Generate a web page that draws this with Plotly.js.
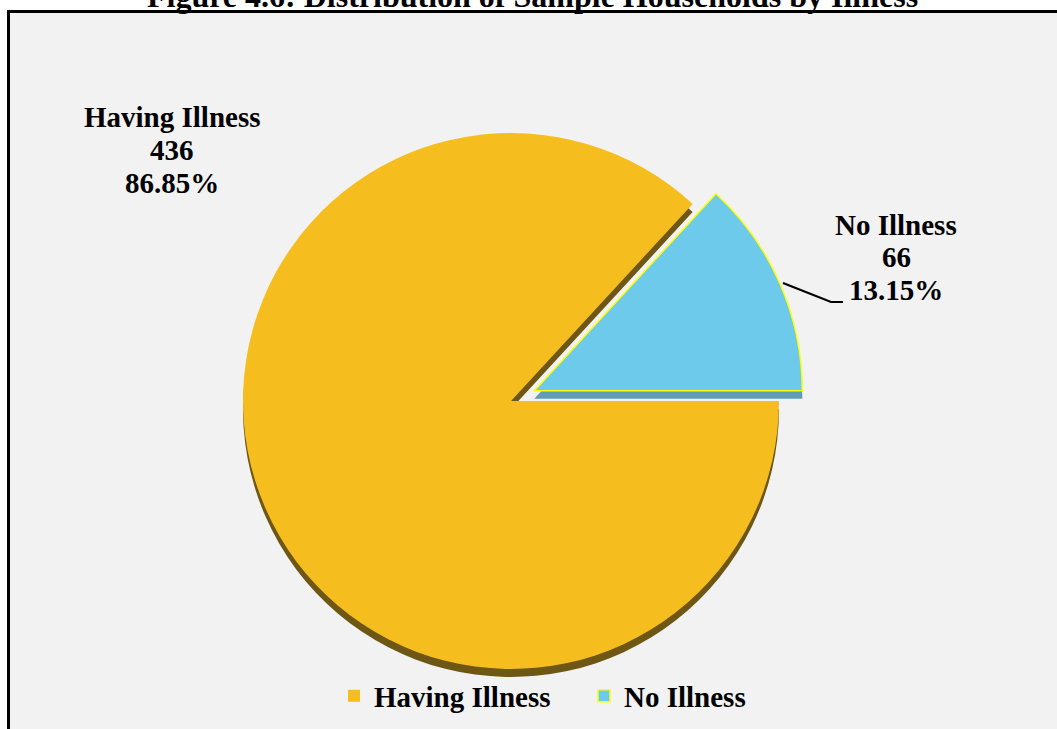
<!DOCTYPE html>
<html>
<head>
<meta charset="utf-8">
<script src="https://cdn.plot.ly/plotly-3.0.1.min.js"></script>
<style>html,body{margin:0;padding:0;background:#fff;}#chart{width:1057px;height:729px;}</style>
</head>
<body>
<div id="chart"></div>
<script>
// ---- data ----
const categories = ['No Illness', 'Having Illness'];
const counts = [66, 436];
const sliceColors = ['#6DCAEA', '#F5BE1E'];
const shadowColors = ['#5E9DB3', '#6E5614'];
const titleText = 'Figure 4.6: Distribution of Sample Households by Illness';

const W = 1057, H = 729;
const px = x => x / W;
const py = y => 1 - y / H;

const total = counts.reduce((a, b) => a + b, 0);
const pct = counts.map(v => (100 * v / total).toFixed(2) + '%');
const startAngle = 90 - 360 * counts[0] / total;

const FONT = 'Liberation Serif, Times New Roman, serif';

const cx = 511, cy = 401, r = 268, pull = 0.095;
const half = r * (1 + pull);
const dom = (dy) => ({
  x: [px(cx - half), px(cx + half)],
  y: [py(cy + dy + half), py(cy + dy - half)]
});

const shadow = {
  type: 'pie', labels: categories, values: counts, sort: false,
  direction: 'clockwise', rotation: startAngle, pull: [pull, 0],
  marker: {colors: shadowColors, line: {width: 0}},
  textinfo: 'none', hoverinfo: 'skip', showlegend: false,
  domain: dom(8)
};
const main = {
  type: 'pie', labels: categories, values: counts, sort: false,
  direction: 'clockwise', rotation: startAngle, pull: [pull, 0],
  marker: {colors: sliceColors, line: {color: ['#FFFF00', '#F5BE1E'], width: [1.5, 0]}},
  textinfo: 'none', showlegend: true,
  domain: dom(0)
};

// label line positions (pixels): x centre, y of each of the three lines
const labelPos = [[896, [225, 257, 290]], [172, [117, 150, 183]]];
const annotations = [];
categories.forEach((c, i) => {
  const lines = [c, String(counts[i]), pct[i]];
  lines.forEach((t, j) => annotations.push({
    text: t, xref: 'paper', yref: 'paper',
    x: px(labelPos[i][0]), y: py(labelPos[i][1][j]),
    xanchor: 'center', yanchor: 'middle', showarrow: false,
    font: {family: FONT, size: 29, color: '#000', weight: 'bold'}
  }));
});
annotations.push({
  text: titleText, xref: 'paper', yref: 'paper', x: px(532), y: py(-4),
  xanchor: 'center', yanchor: 'middle', showarrow: false,
  font: {family: FONT, size: 32, color: '#000', weight: 'bold'}
});

const leader = [[783, 283], [831, 302], [843, 302]];
const shapes = [
  {type: 'rect', xref: 'paper', yref: 'paper', layer: 'below',
   x0: px(8.5), x1: px(1070), y0: py(740), y1: py(11.5),
   fillcolor: '#F2F2F2', line: {color: '#000', width: 3}},
  {type: 'path', xref: 'paper', yref: 'paper', layer: 'above',
   path: 'M' + leader.map(p => px(p[0]) + ',' + py(p[1])).join(' L'),
   line: {color: '#000', width: 2.2}}
];

const layout = {
  width: W, height: H,
  margin: {l: 0, r: 0, t: 0, b: 0},
  paper_bgcolor: '#FFFFFF', plot_bgcolor: 'rgba(0,0,0,0)',
  showlegend: true,
  legend: {orientation: 'h', x: px(334), xanchor: 'left', y: py(696), yanchor: 'middle',
           entrywidth: 205, entrywidthmode: 'pixels',
           font: {family: FONT, size: 29, color: '#000', weight: 'bold'},
           bgcolor: 'rgba(0,0,0,0)', traceorder: 'reversed', itemwidth: 30},
  annotations: annotations,
  shapes: shapes
};

Plotly.newPlot('chart', [shadow, main], layout, {displayModeBar: false, staticPlot: true});
</script>
</body>
</html>
